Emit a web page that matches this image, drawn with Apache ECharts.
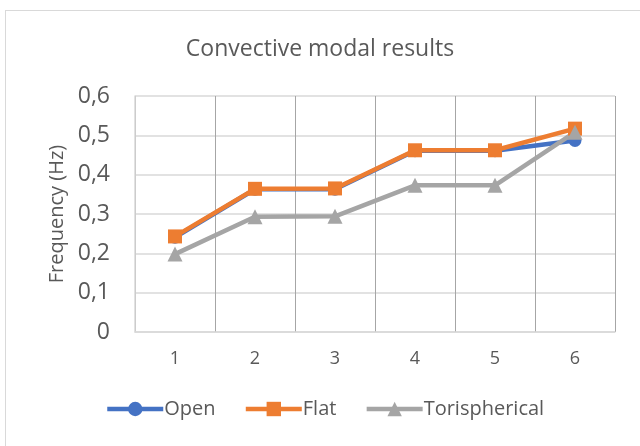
<!DOCTYPE html>
<html>
<head>
<meta charset="utf-8">
<script src="https://cdn.jsdelivr.net/npm/echarts@6/dist/echarts.min.js"></script>
<style>
  html, body { margin: 0; padding: 0; background: #fff; }
  #frame {
    position: absolute; left: 5px; top: 10px; width: 700px; height: 440px;
    border: 1px solid #d9d9d9; box-sizing: border-box;
  }
  #chart { position: absolute; left: 0; top: 0; width: 640px; height: 446px; }
</style>
</head>
<body>
<div id="frame"></div>
<div id="chart"></div>
<script>
const categories = ["1", "2", "3", "4", "5", "6"];
const openValues = [0.241, 0.363, 0.363, 0.461, 0.461, 0.487];
const flatValues = [0.243, 0.364, 0.365, 0.462, 0.462, 0.517];
const torisphericalValues = [0.198, 0.293, 0.294, 0.373, 0.373, 0.508];
const yTicks = [0, 0.1, 0.2, 0.3, 0.4, 0.5, 0.6];

const fontFamily = "'Open Sans', 'Liberation Sans', sans-serif";
const textColor = "#595959";

const chart = echarts.init(document.getElementById("chart"), null, { renderer: "canvas" });

const makeSeries = (name, data, color, symbol, size) => ({
  name,
  type: "line",
  data,
  symbol,
  symbolSize: size,
  showSymbol: true,
  lineStyle: { width: 4.5, color },
  itemStyle: { color },
  emphasis: { disabled: true },
  animation: false,
});

chart.setOption({
  backgroundColor: "transparent",
  animation: false,
  title: {
    text: "Convective modal results",
    left: "center",
    top: 33,
    textStyle: { color: textColor, fontSize: 23, fontWeight: "normal", fontFamily },
  },
  legend: {
    bottom: 22,
    left: 100,
    itemWidth: 56,
    itemHeight: 18,
    itemGap: 28,
    lineStyle: { width: 4.5 },
    textStyle: { color: textColor, fontSize: 20, fontFamily, padding: [0, 0, 0, -4] },
    data: ["Open", "Flat", "Torispherical"],
  },
  grid: { left: 135, right: 25, top: 96, bottom: 114 },
  xAxis: {
    type: "category",
    data: categories,
    boundaryGap: true,
    axisLine: { show: true, lineStyle: { color: "#d9d9d9", width: 1.5 } },
    axisTick: { show: false },
    splitLine: { show: true, interval: 0, lineStyle: { color: "#a6a6a6", width: 1 } },
    axisLabel: { color: textColor, fontSize: 18, fontFamily, margin: 18 },
  },
  yAxis: {
    type: "value",
    min: yTicks[0],
    max: yTicks[yTicks.length - 1],
    interval: 0.1,
    name: "Frequency (Hz)",
    nameLocation: "middle",
    nameGap: 67,
    nameTextStyle: { color: textColor, fontSize: 20, fontFamily },
    axisLine: { show: true, lineStyle: { color: "#d9d9d9", width: 1.5 } },
    axisTick: { show: false },
    splitLine: { lineStyle: { color: "#d9d9d9", width: 1.5 } },
    axisLabel: {
      color: textColor,
      fontSize: 23,
      fontFamily,
      margin: 25,
      formatter: (v) => String(Math.round(v * 10) / 10).replace(".", ","),
    },
  },
  series: [
    makeSeries("Open", openValues, "#4472c4", "circle", 13),
    makeSeries("Flat", flatValues, "#ed7d31", "rect", 14),
    makeSeries("Torispherical", torisphericalValues, "#a5a5a5", "triangle", 15),
  ],
});
</script>
</body>
</html>
